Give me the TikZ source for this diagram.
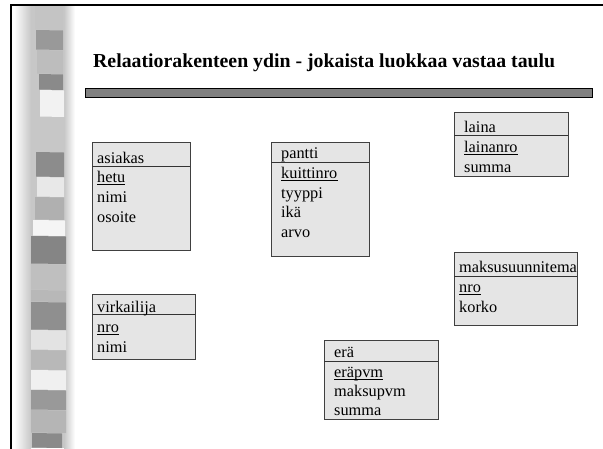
\documentclass[tikz,border=0pt]{standalone}
\usepackage{fontspec}
\setmainfont{Liberation Serif}
\begin{document}
\begin{tikzpicture}[x=1pt,y=-1pt,
  tbox/.style={draw=black!75, line width=0.9pt, fill=black!10, rectangle,
    inner sep=0pt, anchor=north west},
  divider/.style={draw=black!80, line width=0.8pt},
  txt/.style={anchor=base west, inner sep=0pt, font=\fontsize{16.3}{19}\selectfont},
  uline/.style={line width=0.8pt},
  titletext/.style={anchor=base west, inner sep=0pt, font=\fontsize{19.8}{24}\selectfont\bfseries},
]
\useasboundingbox (0,0) rectangle (603,448);
\clip (0,0) rectangle (603,448);
\fill[white] (0,0) rectangle (603,448);

% soft band behind the stripes
\shade[left color=white, right color=black!22] (14,5) rectangle (31,448);
\fill[black!22] (31,5) rectangle (64,448);
\shade[left color=black!22, right color=white] (64,5) rectangle (75,448);

% stripe blocks: top/bottom/grey/left/right
\foreach \ya/\yb/\g/\xl/\xr in {
  5/30/23/35/63, 30/50/40/36/63, 50/74/26/37/63, 74/90/46/39/63,
  90/117/5/40/64, 117/152/22/37/64, 152/177/45/36/64, 177/197/9/37/64,
  197/220/31/35/64, 220/236/4/33/65, 236/264/48/31/66, 264/290/25/31/66,
  290/302/28/31/66, 302/330/44/31/66, 330/350/11/31/66, 350/370/28/31/66,
  370/390/6/31/66, 390/410/40/31/66, 410/433/29/31/66, 433/448/46/32/62}
  \fill[black!\g] (\xl,\ya) -- (\xr,\ya+0.5) -- (\xr,\yb) -- (\xl,\yb-0.5) -- cycle;

% page frame: left and top edges
\draw[line width=1.4pt] (11,460) -- (11,5) -- (620,5);

% title and rule
\node[titletext] (title) at (93,67) {Relaatiorakenteen ydin - jokaista luokkaa vastaa taulu};
\node[draw=black, line width=0.9pt, fill=black!50, inner sep=0pt, anchor=north west,
      minimum width=507pt, minimum height=9pt] (rule) at (85,88) {};

% asiakas
\node[tbox, minimum width=98pt, minimum height=108pt] (asiakas) at (92,142) {};
\draw[divider] (92,166) -- (190,166);
\node[txt] (asiakasH) at (97,163) {asiakas};
\node[txt] (hetu) at (97,182) {hetu};
\node[txt] (asnimi) at (97,202) {nimi};
\node[txt] (osoite) at (97,222) {osoite};
\draw[uline] ([yshift=-2pt]hetu.base west) -- ([yshift=-2pt]hetu.base east);

% pantti
\node[tbox, minimum width=98pt, minimum height=114pt] (pantti) at (271,142) {};
\draw[divider] (271,162) -- (369,162);
\node[txt] (panttiH) at (281,158) {pantti};
\node[txt] (kuittinro) at (281,178) {kuittinro};
\node[txt] (tyyppi) at (281,198) {tyyppi};
\node[txt] (ika) at (281,217) {ikä};
\node[txt] (arvo) at (281,237) {arvo};
\draw[uline] ([yshift=-2pt]kuittinro.base west) -- ([yshift=-2pt]kuittinro.base east);

% laina
\node[tbox, minimum width=114pt, minimum height=64pt] (laina) at (454,112) {};
\draw[divider] (454,135) -- (568,135);
\node[txt] (lainaH) at (464,132) {laina};
\node[txt] (lainanro) at (464,152) {lainanro};
\node[txt] (lsumma) at (464,172) {summa};
\draw[uline] ([yshift=-2pt]lainanro.base west) -- ([yshift=-2pt]lainanro.base east);

% maksusuunnitema
\node[tbox, minimum width=123pt, minimum height=73pt] (maksu) at (454,252) {};
\draw[divider] (454,276) -- (577,276);
\node[txt] (maksuH) at (459,272) {maksusuunnitema};
\node[txt] (mnro) at (459,292) {nro};
\node[txt] (korko) at (459,312) {korko};
\draw[uline] ([yshift=-2pt]mnro.base west) -- ([yshift=-2pt]mnro.base east);

% virkailija
\node[tbox, minimum width=103pt, minimum height=65pt] (virkailija) at (92,294) {};
\draw[divider] (92,314) -- (195,314);
\node[txt] (virkH) at (97,312) {virkailija};
\node[txt] (vnro) at (97,332) {nro};
\node[txt] (vnimi) at (97,352) {nimi};
\draw[uline] ([yshift=-2pt]vnro.base west) -- ([yshift=-2pt]vnro.base east);

% erä
\node[tbox, minimum width=114pt, minimum height=79pt] (era) at (324,340) {};
\draw[divider] (324,361) -- (438,361);
\node[txt] (eraH) at (334,357) {erä};
\node[txt] (erapvm) at (334,377) {eräpvm};
\node[txt] (maksupvm) at (334,396) {maksupvm};
\node[txt] (esumma) at (334,415) {summa};
\draw[uline] ([yshift=-2pt]erapvm.base west) -- ([yshift=-2pt]erapvm.base east);
\end{tikzpicture}
\end{document}
